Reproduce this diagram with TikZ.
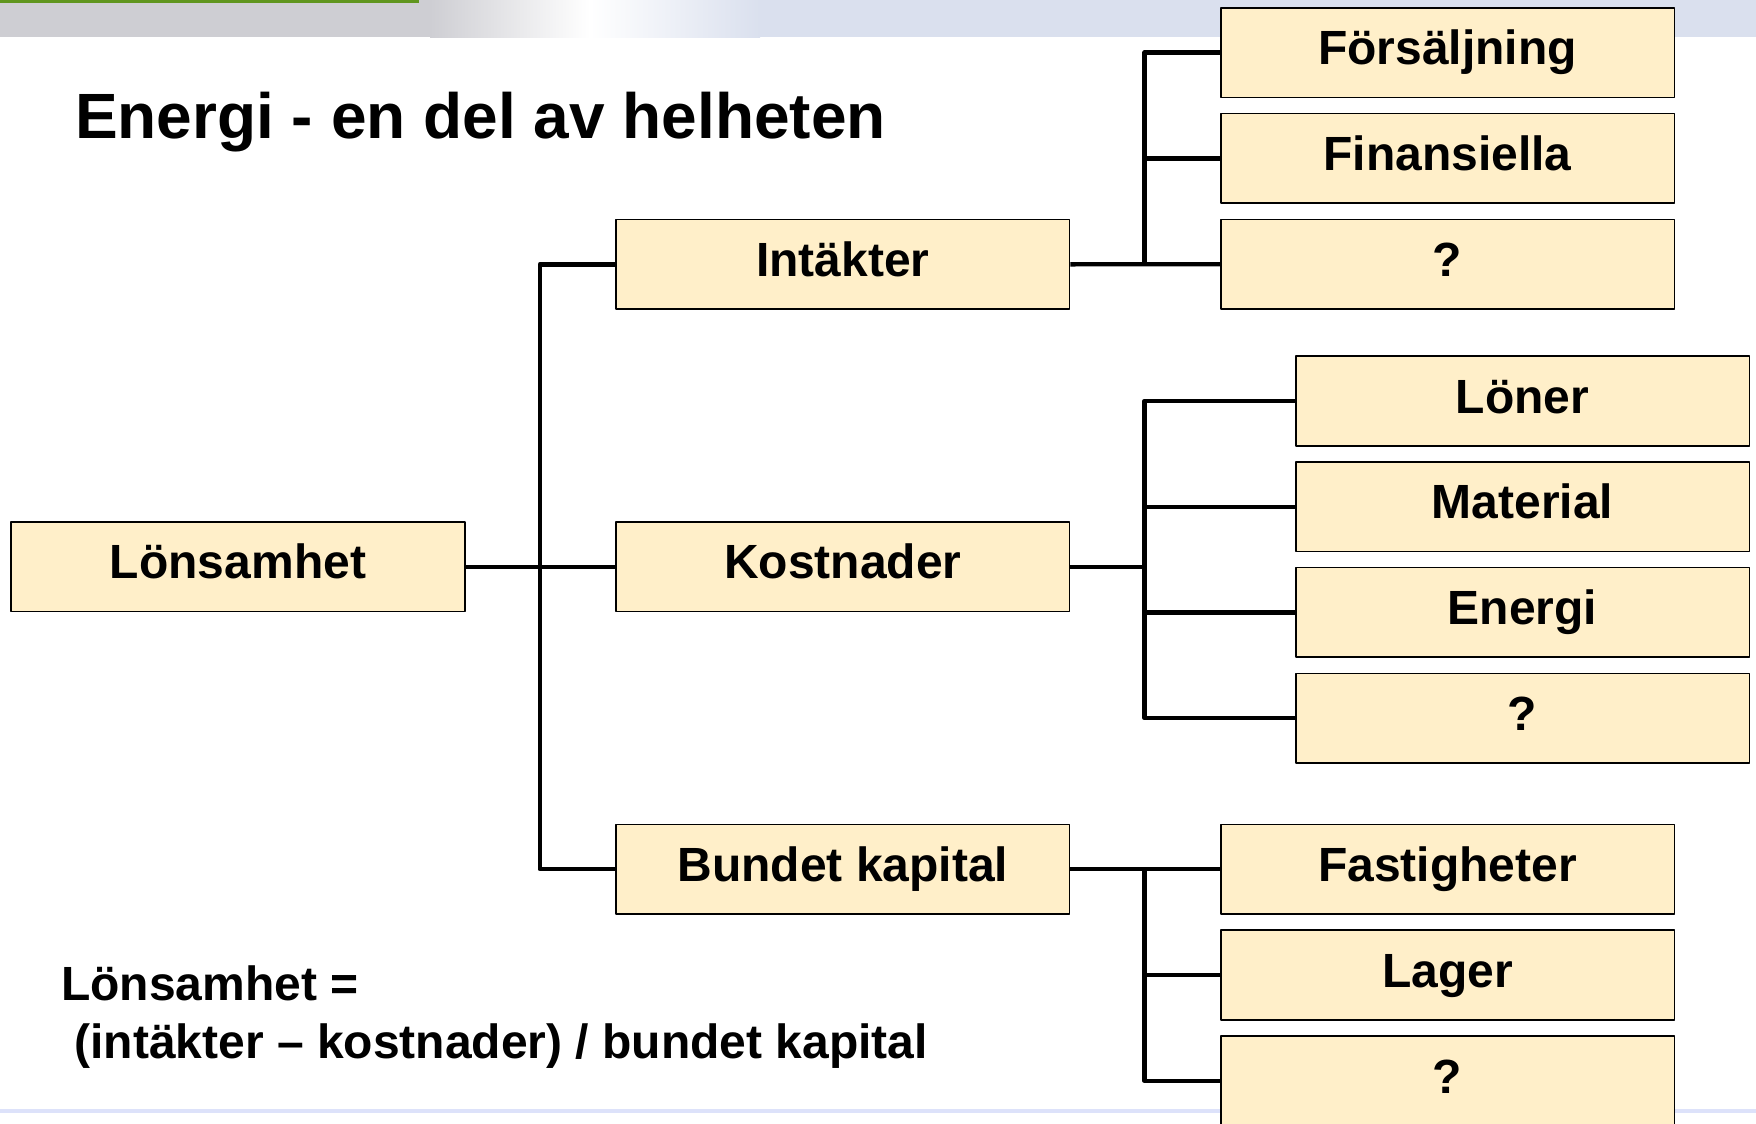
\documentclass[tikz,border=0pt]{standalone}
\usepackage{fontspec}
\setmainfont{Liberation Sans}
\definecolor{boxfill}{RGB}{255,239,201}
\definecolor{bannergray}{RGB}{206,206,211}
\definecolor{bannerblue}{RGB}{218,224,238}
\definecolor{topgreen}{RGB}{96,150,30}
\definecolor{footblue}{RGB}{221,226,250}
\begin{document}
\begin{tikzpicture}[line join=round,x=0.5pt,y=-0.5pt]
\tikzset{every node/.style={font=\bfseries\fontsize{24}{29}\selectfont},
  post/.style={draw=black,line width=0.8pt,fill=boxfill,minimum width=226.8pt,minimum height=44.8pt,inner sep=0pt,text height=17.2pt,text depth=5pt},
  link/.style={line width=2.2pt}}
\useasboundingbox (0,0) rectangle (1756,1124);
% banner and footer
\fill[bannergray] (0,0) rectangle (430,37);
\shade[left color=bannergray,right color=white] (430,0) rectangle (590,37);
\shade[left color=white,right color=bannerblue] (590,0) rectangle (760,37);
\fill[bannerblue] (760,0) rectangle (1756,37);
\fill[topgreen] (0,0) rectangle (419,3);
\fill[footblue] (0,1109) rectangle (1756,1113);
\node[anchor=base west,font=\bfseries\fontsize{32}{38}\selectfont] (title) at (68,138.6) {Energi - en del av helheten};
% tree
\node[post] (lon) at (238,566.7) {Lönsamhet};
\node[post] (int) at (842.8,264.3) {Intäkter};
\node[post] (kos) at (842.8,566.7) {Kostnader};
\node[post] (bun) at (842.8,869.1) {Bundet kapital};
\foreach \t [count=\i] in {Försäljning,Finansiella,?}
  \node[post] (a\i) at (1447.6,{52.6+105.8*(\i-1)}) {\t};
\foreach \t [count=\i] in {Löner,Material,Energi,?}
  \node[post] (b\i) at (1522.6,{401+105.7*(\i-1)}) {\t};
\foreach \t [count=\i] in {Fastigheter,Lager,?}
  \node[post] (c\i) at (1447.6,{869.1+105.9*(\i-1)}) {\t};
\coordinate (j1) at (539.8,566.7);
\coordinate (j2) at (1144.6,264.3);
\coordinate (j3) at (1144.6,566.7);
\coordinate (j4) at (1144.6,869.1);
\draw[link] (int.west) -| (j1) |- (bun.west);
\draw[link] (lon.east) -- (kos.west);
\draw[link] (a1.west) -| (j2);
\draw[link] (int.east) -- (a3.west);
\draw[link] (a2.west) -- (a2.west -| j2);
\draw[link] (b1.west) -| (j3) |- (b4.west);
\draw[link] (kos.east) -- (j3);
\foreach \i in {2,3}
\draw[link] (b\i.west) -- (b\i.west -| j3);
\draw[link] (bun.east) -- (c1.west);
\draw[link] (j4) |- (c3.west);
\draw[link] (c2.west) -- (c2.west -| j4);
% formula
\node[anchor=base west,align=left] (formel) at (54,1058) {Lönsamhet =\\\ (intäkter – kostnader) / bundet kapital};
\end{tikzpicture}
\end{document}
